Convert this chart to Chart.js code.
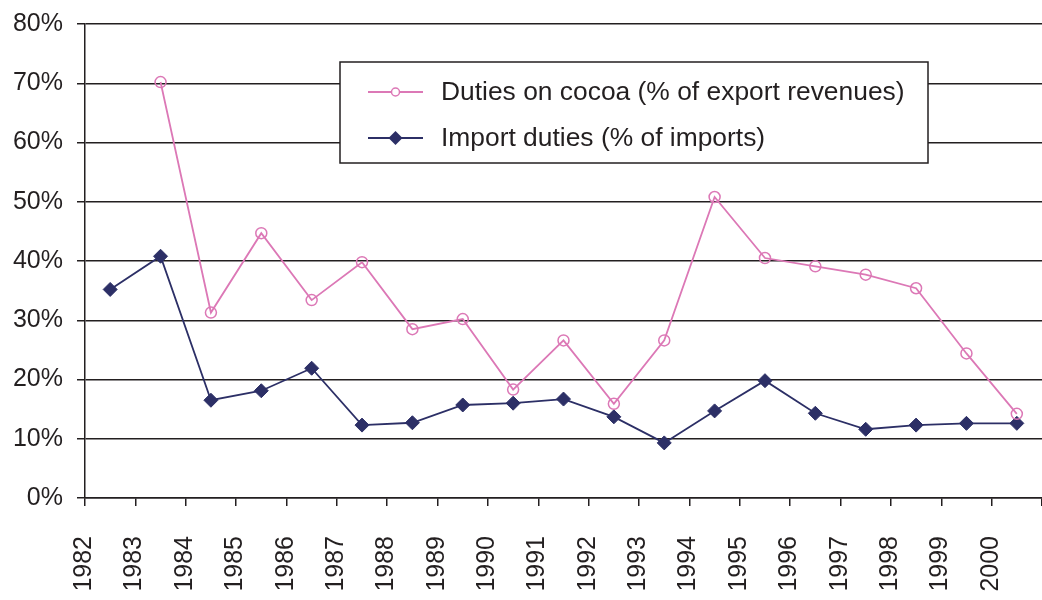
<!DOCTYPE html>
<html>
<head>
<meta charset="utf-8">
<script src="https://cdn.jsdelivr.net/npm/chart.js@4"></script>
<style>
  html, body { margin: 0; padding: 0; background: #fff; overflow: hidden; width: 1042px; height: 600px; }
  #wrap { position: relative; width: 1050px; height: 600px; }
</style>
</head>
<body>
<div id="wrap"><canvas id="c"></canvas></div>
<script>
const years = ['1982','1983','1984','1985','1986','1987','1988','1989','1990','1991',
               '1992','1993','1994','1995','1996','1997','1998','1999','2000'];
const cocoaDuties = [null, 70.2, 31.3, 44.7, 33.4, 39.8, 28.5, 30.2, 18.3, 26.6,
                     15.9, 26.6, 50.8, 40.5, 39.1, 37.7, 35.4, 24.4, 14.2];
const importDuties = [35.2, 40.8, 16.5, 18.1, 21.9, 12.3, 12.7, 15.7, 16.0, 16.7,
                      13.7, 9.3, 14.7, 19.8, 14.3, 11.6, 12.3, 12.6, 12.6];
const seriesNames = ['Duties on cocoa (% of export revenues)', 'Import duties (% of imports)'];
const yTicks = [0, 10, 20, 30, 40, 50, 60, 70, 80];

const PINK = '#dc78b6';
const NAVY = '#2c2f66';
const INK = '#231f20';
const FONT = "'Liberation Sans', Arial, sans-serif";

const legendBox = {
  id: 'legendBox',
  afterDatasetsDraw(chart) {
    const ctx = chart.ctx;
    const x0 = 340, y0 = 62, w = 588, h = 101;
    ctx.save();
    ctx.fillStyle = '#fff';
    ctx.fillRect(x0, y0, w, h);
    ctx.strokeStyle = INK;
    ctx.lineWidth = 1.5;
    ctx.strokeRect(x0, y0, w, h);
    const rows = [92, 138];
    chart.data.datasets.forEach((ds, i) => {
      const y = rows[i];
      ctx.strokeStyle = ds.borderColor;
      ctx.lineWidth = 2;
      ctx.beginPath();
      ctx.moveTo(368, y);
      ctx.lineTo(423, y);
      ctx.stroke();
      if (i === 0) {
        ctx.fillStyle = '#fff';
        ctx.lineWidth = 1.5;
        ctx.beginPath();
        ctx.arc(395.5, y, 4, 0, Math.PI * 2);
        ctx.fill();
        ctx.stroke();
      } else {
        ctx.fillStyle = ds.backgroundColor;
        ctx.beginPath();
        ctx.moveTo(395.5, y - 7);
        ctx.lineTo(402.5, y);
        ctx.lineTo(395.5, y + 7);
        ctx.lineTo(388.5, y);
        ctx.closePath();
        ctx.fill();
      }
      ctx.fillStyle = INK;
      ctx.font = '26.4px ' + FONT;
      ctx.textBaseline = 'middle';
      ctx.textAlign = 'left';
      ctx.fillText(ds.label, 441, y + 1);
    });
    ctx.restore();
  }
};

new Chart(document.getElementById('c'), {
  type: 'line',
  data: {
    labels: years,
    datasets: [
      {
        label: seriesNames[0],
        data: cocoaDuties,
        borderColor: PINK,
        backgroundColor: '#fff',
        borderWidth: 1.8,
        pointStyle: 'circle',
        pointRadius: 5.5,
        pointBorderWidth: 1.5,
        pointBorderColor: PINK,
        pointBackgroundColor: 'rgba(255,255,255,0)',
        tension: 0,
        spanGaps: false
      },
      {
        label: seriesNames[1],
        data: importDuties,
        borderColor: NAVY,
        backgroundColor: NAVY,
        borderWidth: 1.8,
        pointStyle: 'rectRot',
        pointRadius: 7,
        pointBorderWidth: 1,
        pointBorderColor: NAVY,
        pointBackgroundColor: NAVY,
        tension: 0
      }
    ]
  },
  options: {
    responsive: true,
    maintainAspectRatio: false,
    animation: false,
    layout: { padding: { top: 24, right: 0, left: 0, bottom: 0 } },
    plugins: { legend: { display: false }, tooltip: { enabled: false } },
    scales: {
      x: {
        type: 'category',
        offset: true,
        grid: { display: true, drawOnChartArea: false, drawTicks: true, tickLength: 8, offset: true, color: INK, lineWidth: 1.5 },
        border: { display: true, color: INK, width: 1.5 },
        ticks: {
          color: INK, font: { family: FONT, size: 25 },
          minRotation: 90, maxRotation: 90, autoSkip: false,
          padding: 30, labelOffset: -26
        },
        afterFit(scale) {
          scale.height = 102;
          scale.paddingLeft = 0; scale.paddingRight = 0;
        }
      },
      y: {
        min: 0, max: 80,
        afterBuildTicks(scale) { scale.ticks = yTicks.map(v => ({ value: v })); },
        grid: { color: INK, lineWidth: 1.5, drawTicks: true, tickLength: 8 },
        border: { display: true, color: INK, width: 1.5 },
        ticks: {
          color: INK, font: { family: FONT, size: 25 }, padding: 14,
          callback: v => v + '%'
        },
        afterFit(scale) {
          scale.width = 85;
          scale.paddingTop = 0; scale.paddingBottom = 0;
        }
      }
    }
  },
  plugins: [legendBox]
});
</script>
</body>
</html>
